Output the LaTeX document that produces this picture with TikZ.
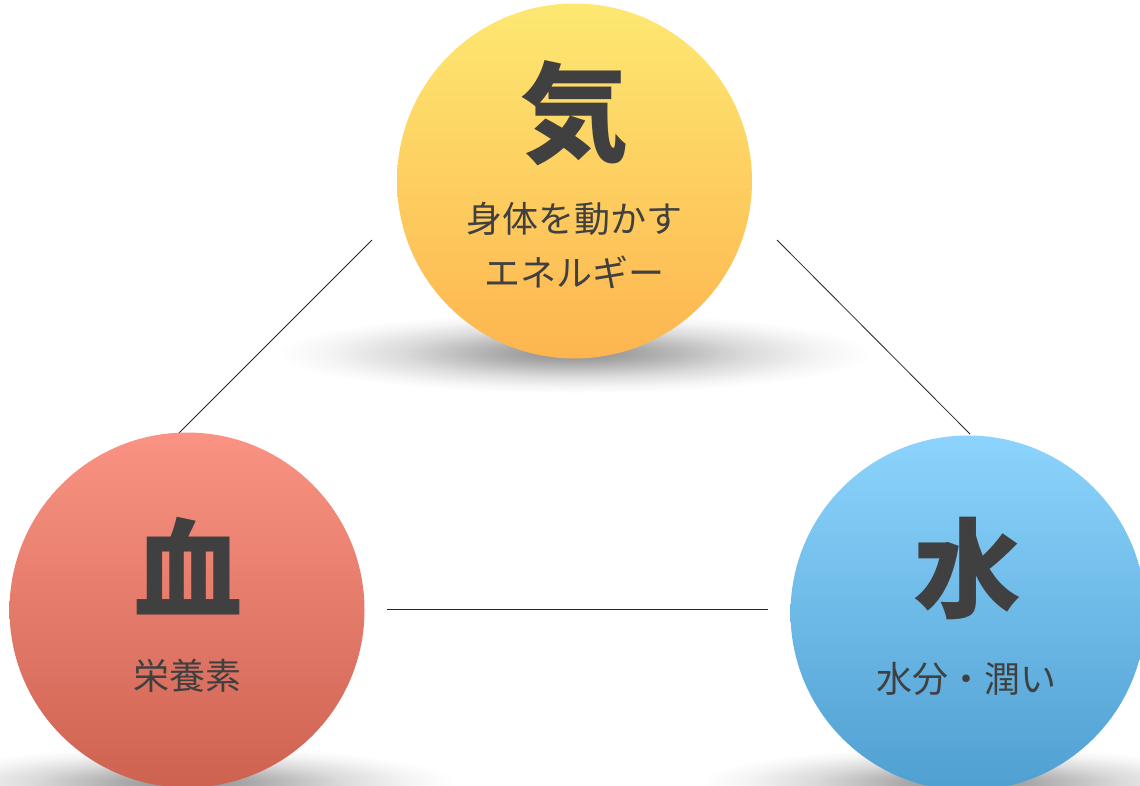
\documentclass[tikz,border=0pt]{standalone}
\usepackage{fontspec}
\newfontfamily\cjk{Noto Sans CJK JP}
\definecolor{txt}{HTML}{404040}
\definecolor{kiTop}{HTML}{FDE872}
\definecolor{kiBot}{HTML}{FDB54F}
\definecolor{ketsuTop}{HTML}{FA9383}
\definecolor{ketsuBot}{HTML}{CE6251}
\definecolor{suiTop}{HTML}{8CD4FD}
\definecolor{suiBot}{HTML}{4F9FD1}
\pgfdeclareradialshading{softshadow}{\pgfpoint{0bp}{0bp}}{%
  color(0bp)=(black!45); color(6bp)=(black!33); color(14bp)=(black!14);
  color(20bp)=(black!4); color(24bp)=(white); color(50bp)=(white)}
\tikzset{
  ball/.style={circle, minimum size=355pt, inner sep=0pt, draw=none},
  bigchar/.style={text=txt, inner sep=0pt, font=\cjk\bfseries\fontsize{108}{108}\selectfont},
  subtext/.style={text=txt, inner sep=0pt, align=center, font=\cjk\fontsize{36}{54}\selectfont},
  link/.style={draw=black!85, line width=0.8pt},
  shadowfx/.style={shading=softshadow}
}
\begin{document}
\begin{tikzpicture}[x=1pt,y=-1pt]
\useasboundingbox (0,0) rectangle (1140,785);
\fill[white] (0,0) rectangle (1140,785);
% shadows
\shade[shadowfx] (574,353) ellipse [x radius=310pt, y radius=42pt];
\shade[shadowfx] (187,783) ellipse [x radius=280pt, y radius=38pt];
\shade[shadowfx] (968,783) ellipse [x radius=280pt, y radius=38pt];
% connector endpoints
\coordinate (a1) at (372,240);
\coordinate (a2) at (178,434);
\coordinate (b1) at (777,240);
\coordinate (b2) at (970,434);
\coordinate (c1) at (387,609);
\coordinate (c2) at (768,609);
\draw[link] (a1) -- (a2);
\draw[link] (b1) -- (b2);
\draw[link] (c1) -- (c2);
% circles
\node[ball, top color=kiTop, bottom color=kiBot] (ki) at (574.5,181) {};
\node[ball, top color=ketsuTop, bottom color=ketsuBot] (ketsu) at (187,610) {};
\node[ball, top color=suiTop, bottom color=suiBot] (sui) at (968,613) {};
% texts
\node[bigchar] (kiT) at (574,113) {気};
\node[subtext] (kiS) at (574,245) {身体を動かす\\エネルギー};
\node[bigchar] (ketsuT) at (188,566) {血};
\node[subtext] (ketsuS) at (187,676) {栄養素};
\node[bigchar] (suiT) at (967,569) {水};
\node[subtext] (suiS) at (966,679) {水分・潤い};
\end{tikzpicture}
\end{document}
